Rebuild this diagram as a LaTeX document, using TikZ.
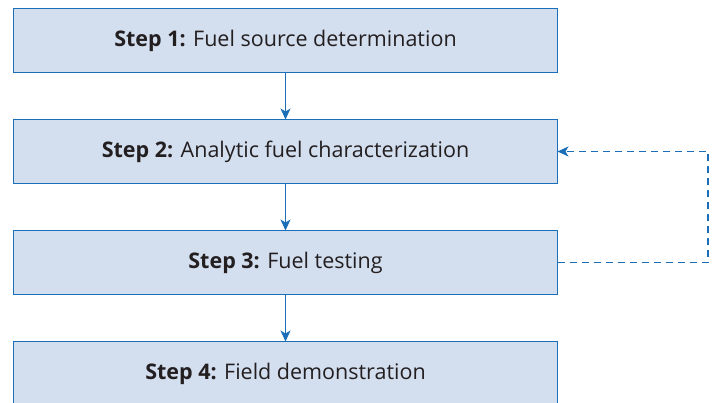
\documentclass[tikz,border=0pt]{standalone}
\usepackage{fontspec}
\setmainfont{Open Sans}
\usepackage{xcolor}
\usepackage{tikz}
\usetikzlibrary{arrows.meta,positioning}

\definecolor{stepblue}{HTML}{1B6EB8}
\definecolor{stepfill}{HTML}{D3DEEF}
\definecolor{steptext}{HTML}{231F20}

\begin{document}
\begin{tikzpicture}[x=1pt,y=-1pt]

\tikzset{stepbox/.style={draw=stepblue, fill=stepfill, line width=1.2pt,
  minimum width=544pt, minimum height=64pt, inner sep=0pt, outer sep=0pt,
  text=steptext, font=\fontsize{21.5}{24}\selectfont},
flow/.style={draw=stepblue, line width=1.3pt, -{Stealth[length=11pt,width=10pt,inset=3pt]}}}

\useasboundingbox (0,0) rectangle (717,403);
\clip (0,0) rectangle (717,403);

\node[stepbox] (step1) at (285.5,40.5) {\textbf{Step 1:} Fuel source determination};
\node[stepbox, below=47pt of step1] (step2) {\textbf{Step 2:} Analytic fuel characterization};
\node[stepbox, below=47pt of step2] (step3) {\textbf{Step 3:} Fuel testing};
\node[stepbox, below=47pt of step3] (step4) {\textbf{Step 4:} Field demonstration};

\draw[flow] (step1) -- (step2);
\draw[flow] (step2) -- (step3);
\draw[flow] (step3) -- (step4);

%feedback from testing
\draw[flow, dash pattern=on 7pt off 5pt] (step3.east) -- ++(150.5pt,0) |- (step2.east);

\end{tikzpicture}
\end{document}
